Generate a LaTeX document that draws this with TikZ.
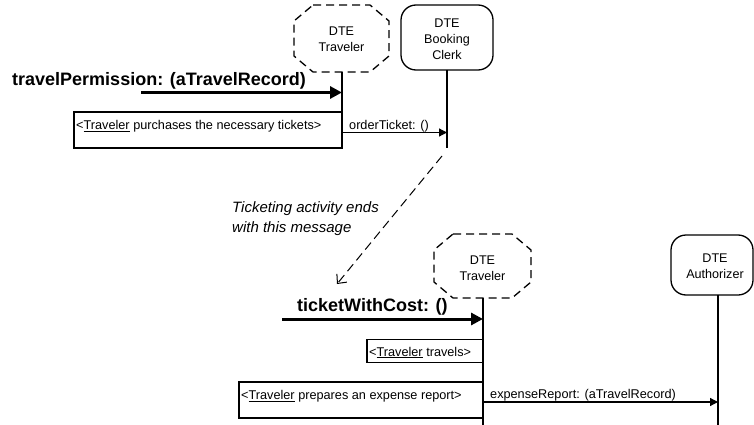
\documentclass[tikz,border=0pt]{standalone}
\usepackage{fontspec}
\setmainfont{Liberation Sans}
\usetikzlibrary{arrows.meta}
\begin{document}
\begin{tikzpicture}[x=1pt,y=-1pt,
  rolelabel/.style={font=\fontsize{12.6}{16}\selectfont, inner sep=0pt, align=center},
  msg/.style={font=\fontsize{12.7}{15}\selectfont, inner sep=0pt, anchor=base west},
  bigmsg/.style={font=\fontsize{18}{22}\selectfont\bfseries, inner sep=0pt, anchor=base west},
  notetext/.style={font=\fontsize{15}{20}\selectfont\itshape, inner sep=0pt, align=left, anchor=base west},
  roleshape/.style={draw, line width=1.3pt, dash pattern=on 8pt off 5pt},
  objbox/.style={draw, line width=1.3pt, rounded corners=15pt},
  lifeline/.style={line width=1.3pt},
  actbox/.style={draw, line width=1.2pt},
  callarrow/.style={line width=1.2pt, -{Triangle[length=8pt,width=8pt]}},
  entryarrow/.style={line width=3pt, -{Triangle[length=12pt,width=12pt]}},
  notearrow/.style={line width=1pt, dash pattern=on 9pt off 5pt, -{Straight Barb[length=7pt,width=13pt]}}
]
\useasboundingbox (0,0) rectangle (754,425);

% ---------- ticketing interaction ----------
% role: traveler (dashed octagon)
\draw[roleshape] (313,5) -- (370,5) -- (389,21) -- (389,56) -- (370,72)
  -- (313,72) -- (294,56) -- (294,21) -- cycle;
\node[rolelabel] (trav1) at (341.5,39.7) {DTE\\Traveler};
\coordinate (trav1top) at (342,72);
\coordinate (trav1bot) at (342,148);
\draw[lifeline] (trav1top) -- (trav1bot);

% object: booking clerk
\draw[objbox] (401,5) rectangle (493,70);
\node[rolelabel] (clerk) at (447,39) {DTE\\Booking\\Clerk};
\coordinate (clerktop) at (447,70);
\coordinate (clerkbot) at (447,148);
\draw[lifeline] (clerktop) -- (clerkbot);

% incoming message
\node[bigmsg] (tpLabel) at (12,86) {travelPermission: (aTravelRecord)};
\coordinate (tpStart) at (141,92.5);
\coordinate (tpEnd) at (342,92.5);
\draw[entryarrow] (tpStart) -- (tpEnd);

% activity box
\draw[actbox] (74,112) rectangle (342,148);
\node[msg] (buyAct) at (76,129.5) {<\underline{Traveler} purchases the necessary tickets>};

% order message
\node[msg] (otLabel) at (349,129.5) {orderTicket: ()};
\coordinate (otStart) at (342,132.5);
\coordinate (otEnd) at (447,132.5);
\draw[callarrow] (otStart) -- (otEnd);

% ---------- note linking the two interactions ----------
\coordinate (noteFrom) at (442,156);
\coordinate (noteTo) at (337,284);
\draw[notearrow] (noteFrom) -- (noteTo);
% base anchor sits on the last line's baseline
\node[notetext] (note) at (232,232) {Ticketing activity ends\\with this message};

% ---------- travel interaction ----------
\draw[roleshape] (453,234) -- (512,234) -- (531,250) -- (531,282) -- (512,298)
  -- (453,298) -- (434,282) -- (434,250) -- cycle;
\node[rolelabel] (trav2) at (482.5,268) {DTE\\Traveler};
\coordinate (trav2top) at (483,298);
\coordinate (trav2bot) at (483,425);
\draw[lifeline] (trav2top) -- (trav2bot);

% object: authorizer
\draw[objbox] (671,235) rectangle (753,295);
\node[rolelabel] (auth) at (715,266.7) {DTE\\Authorizer};
\coordinate (authtop) at (718,295);
\coordinate (authbot) at (718,425);
\draw[lifeline] (authtop) -- (authbot);

% incoming message
\node[bigmsg] (twcLabel) at (297,311.5) {ticketWithCost: ()};
\coordinate (twcStart) at (282,319);
\coordinate (twcEnd) at (483,319);
\draw[entryarrow] (twcStart) -- (twcEnd);

% activity boxes
\draw[actbox] (367,339.5) rectangle (483,362.5);
\node[msg] (travelAct) at (369,356) {<\underline{Traveler} travels>};

\draw[actbox] (239,382) rectangle (483,418);
\node[msg] (reportAct) at (241,399.5) {<\underline{Traveler} prepares an expense report>};

% expense report message
\node[msg] (erLabel) at (490,398.5) {expenseReport: (aTravelRecord)};
\coordinate (erStart) at (483,402);
\coordinate (erEnd) at (718,402);
\draw[callarrow] (erStart) -- (erEnd);
\end{tikzpicture}
\end{document}
